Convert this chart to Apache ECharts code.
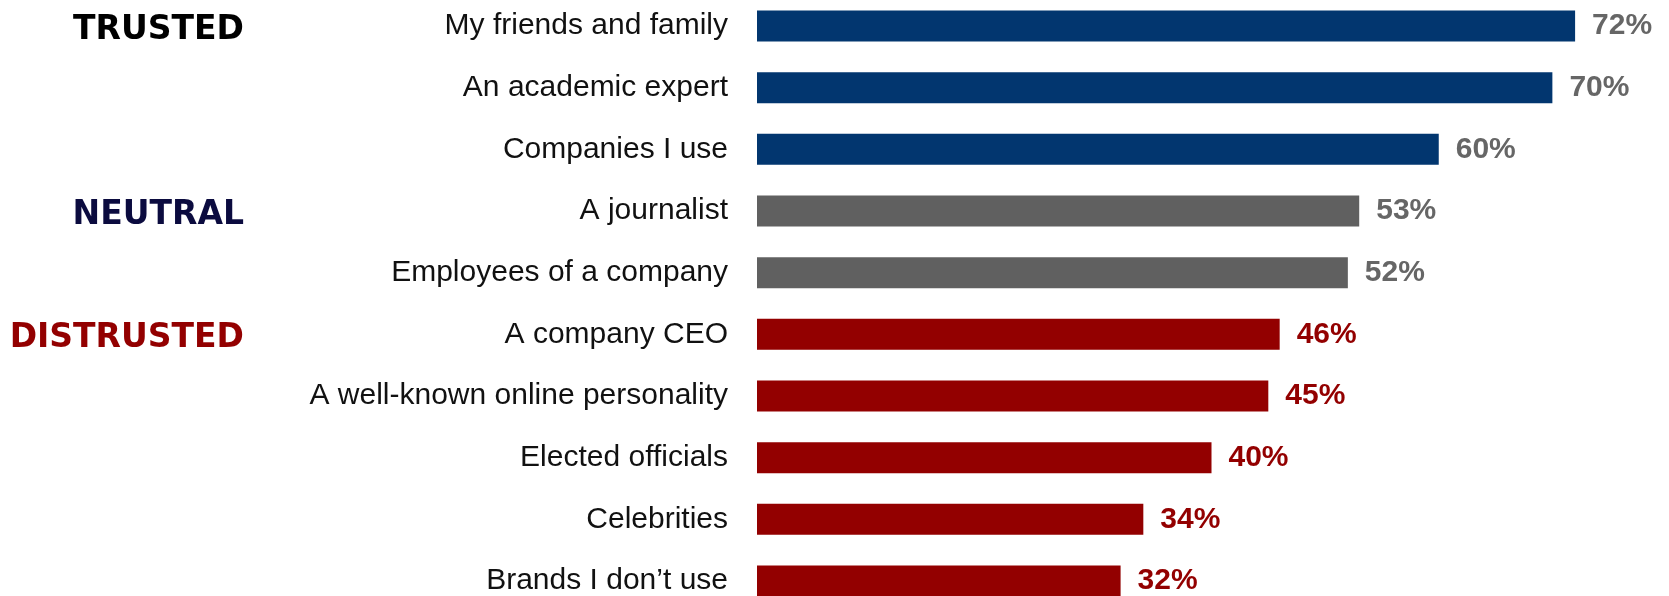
<!DOCTYPE html>
<html>
<head>
<meta charset="utf-8">
<script src="https://cdn.jsdelivr.net/npm/echarts@6/dist/echarts.min.js"></script>
<style>
  html, body { margin: 0; padding: 0; background: #fff; }
  #chart { width: 1669px; height: 596px; }
</style>
</head>
<body>
<div id="chart"></div>
<script>
var categories = ['My friends and family', 'An academic expert', 'Companies I use', 'A journalist',
  'Employees of a company', 'A company CEO', 'A well-known online personality', 'Elected officials',
  'Celebrities', 'Brands I don\u2019t use'];
var values = [72, 70, 60, 53, 52, 46, 45, 40, 34, 32];
var groups = ['trusted', 'trusted', 'trusted', 'neutral', 'neutral',
  'distrusted', 'distrusted', 'distrusted', 'distrusted', 'distrusted'];
var groupTitles = { trusted: 'TRUSTED', neutral: 'NEUTRAL', distrusted: 'DISTRUSTED' };

var barColors = { trusted: '#02366f', neutral: '#606060', distrusted: '#930000' };
var labelColors = { trusted: '#666666', neutral: '#666666', distrusted: '#930000' };
var titleColors = { trusted: '#000000', neutral: '#0b0b3f', distrusted: '#930000' };

var myChart = echarts.init(document.getElementById('chart'));

var rich = {};
Object.keys(groupTitles).forEach(function (g) {
  rich[g] = {
    color: titleColors[g],
    fontFamily: 'DejaVu Sans',
    fontWeight: 'bold',
    fontSize: 33,
    padding: [8, 0, 0, 0]
  };
});

// rows sit on the ticks, first row at the grid top, last at the bottom
myChart.setOption({
  animation: false,
  grid: { left: 757, top: 26, width: 909, height: 557 },
  xAxis: {
    type: 'value',
    min: 0,
    max: 80,
    show: false
  },
  yAxis: [
    {
      type: 'category',
      data: categories,
      inverse: true,
      boundaryGap: false,
      axisLine: { show: false },
      axisTick: { show: false },
      splitLine: { show: false },
      axisLabel: {
        margin: 29,
        color: '#111',
        fontFamily: 'Liberation Sans',
        fontSize: 30,
        padding: [4, 0, 0, 0]
      }
    },
    {
      type: 'category',
      data: categories,
      inverse: true,
      boundaryGap: false,
      position: 'left',
      axisLine: { show: false },
      axisTick: { show: false },
      splitLine: { show: false },
      axisLabel: {
        margin: 513,
        align: 'right',
        formatter: function (v, i) {
          var g = groups[i];
          if (i > 0 && groups[i - 1] === g) return '';
          return '{' + g + '|' + groupTitles[g] + '}';
        },
        rich: rich
      }
    }
  ],
  series: [{
    type: 'bar',
    data: values.map(function (v, i) {
      return {
        value: v,
        itemStyle: { color: barColors[groups[i]] },
        label: { color: labelColors[groups[i]] }
      };
    }),
    barWidth: 31,
    label: {
      show: true,
      position: 'right',
      distance: 17,
      formatter: '{c}%',
      fontFamily: 'Liberation Sans',
      fontWeight: 'bold',
      fontSize: 30,
      padding: [4, 0, 0, 0]
    }
  }]
});
</script>
</body>
</html>
